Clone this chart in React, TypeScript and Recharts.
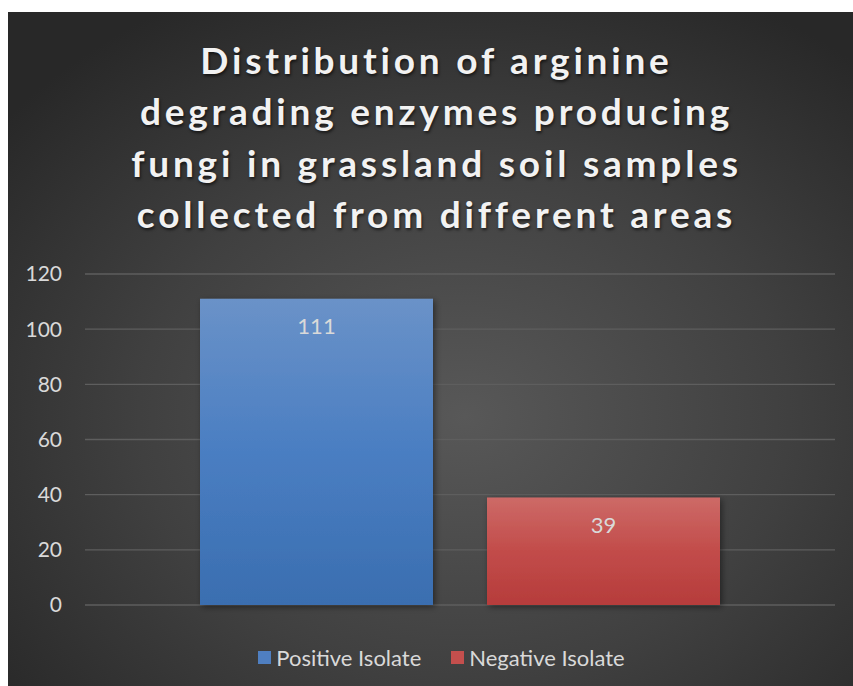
import React from "react";
import { BarChart, Bar, XAxis, YAxis, CartesianGrid, Legend, LabelList } from "recharts";

const categories = ["Isolates"];
const positiveValues = [111];
const negativeValues = [39];
const yTicks = [0, 20, 40, 60, 80, 100, 120];
const seriesNames = ["Positive Isolate", "Negative Isolate"];
const titleLines = [
  "Distribution of arginine",
  "degrading enzymes producing",
  "fungi in grassland soil samples",
  "collected from different areas",
];

const data = categories.map((c, i) => ({
  name: c,
  positive: positiveValues[i],
  negative: negativeValues[i],
}));

const FONT = "Lato, 'Open Sans', sans-serif";
const W = 845;
const H = 674;

const legendColors: Record<string, string> = {
  positive: "#4f7fc1",
  negative: "#c44f4d",
};

const renderLegend = (props: any) => {
  const payload = [...(props.payload || [])].sort(
    (a: any, b: any) => seriesNames.indexOf(a.value) - seriesNames.indexOf(b.value)
  );
  return (
    <div
      style={{
        display: "flex",
        justifyContent: "center",
        alignItems: "center",
        gap: 30,
        height: 30,
        fontFamily: FONT,
        fontSize: 22,
        color: "#d9d9d9",
      }}
    >
      {payload.map((p: any) => (
        <div key={p.value} style={{ display: "flex", alignItems: "center" }}>
          <span
            style={{
              display: "inline-block",
              width: 13,
              height: 13,
              marginRight: 5,
              background: legendColors[p.dataKey] || p.color,
            }}
          />
          <span>{p.value}</span>
        </div>
      ))}
    </div>
  );
};

export default function App() {
  return (
    <div
      style={{
        position: "absolute",
        left: 8,
        top: 12,
        width: W,
        height: H,
        background:
          "radial-gradient(ellipse 70% 70% at 54% 60%, #585858 0%, #404040 55%, #282828 100%)",
        overflow: "hidden",
      }}
    >
      <div
        style={{
          position: "absolute",
          top: 22,
          left: 6,
          width: W,
          textAlign: "center",
          fontFamily: FONT,
          fontWeight: 700,
          fontSize: 37,
          lineHeight: "51.3px",
          letterSpacing: 3.8,
          color: "#f2f2f2",
          textShadow: "1px 2px 3px rgba(0,0,0,0.6)",
          whiteSpace: "nowrap",
          zIndex: 2,
        }}
      >
        {titleLines.map((l) => (
          <div key={l}>{l}</div>
        ))}
      </div>
      <BarChart
        width={W}
        height={H}
        data={data}
        margin={{ top: 262, right: 18, bottom: 51, left: 0 }}
        barCategoryGap={115}
        barGap={54}
        style={{ position: "absolute", left: 0, top: 0 }}
      >
        <defs>
          <linearGradient id="gradBlue" x1="0" y1="0" x2="0" y2="1">
            <stop offset="0%" stopColor="#6a92c8" />
            <stop offset="50%" stopColor="#4a7ec2" />
            <stop offset="100%" stopColor="#3a6eb0" />
          </linearGradient>
          <linearGradient id="gradRed" x1="0" y1="0" x2="0" y2="1">
            <stop offset="0%" stopColor="#cd6a67" />
            <stop offset="50%" stopColor="#c24c4a" />
            <stop offset="100%" stopColor="#b63c3b" />
          </linearGradient>
          <filter id="barShadow" x="-10%" y="-10%" width="130%" height="130%">
            <feDropShadow dx="2" dy="2" stdDeviation="3" floodColor="#000" floodOpacity="0.45" />
          </filter>
        </defs>
        <CartesianGrid vertical={false} stroke="#5e5e5e" strokeWidth={1.3} />
        <XAxis dataKey="name" hide />
        <YAxis
          domain={[0, 120]}
          ticks={yTicks}
          width={77}
          axisLine={false}
          tickLine={false}
          tickSize={0}
          tickMargin={23}
          tick={{ fill: "#d9d9d9", fontSize: 21, fontFamily: FONT }}
        />
        <Legend
          verticalAlign="bottom"
          content={renderLegend}
          wrapperStyle={{ width: W, left: 11, bottom: 14 }}
        />
        <Bar
          dataKey="positive"
          name={seriesNames[0]}
          fill="url(#gradBlue)"
          filter="url(#barShadow)"
          isAnimationActive={false}
        >
          <LabelList
            dataKey="positive"
            position="insideTop"
            offset={20}
            fill="#d9d9d9"
            fontSize={22}
            fontFamily={FONT}
          />
        </Bar>
        <Bar
          dataKey="negative"
          name={seriesNames[1]}
          fill="url(#gradRed)"
          filter="url(#barShadow)"
          isAnimationActive={false}
        >
          <LabelList
            dataKey="negative"
            position="insideTop"
            offset={20}
            fill="#d9d9d9"
            fontSize={22}
            fontFamily={FONT}
          />
        </Bar>
      </BarChart>
    </div>
  );
}
